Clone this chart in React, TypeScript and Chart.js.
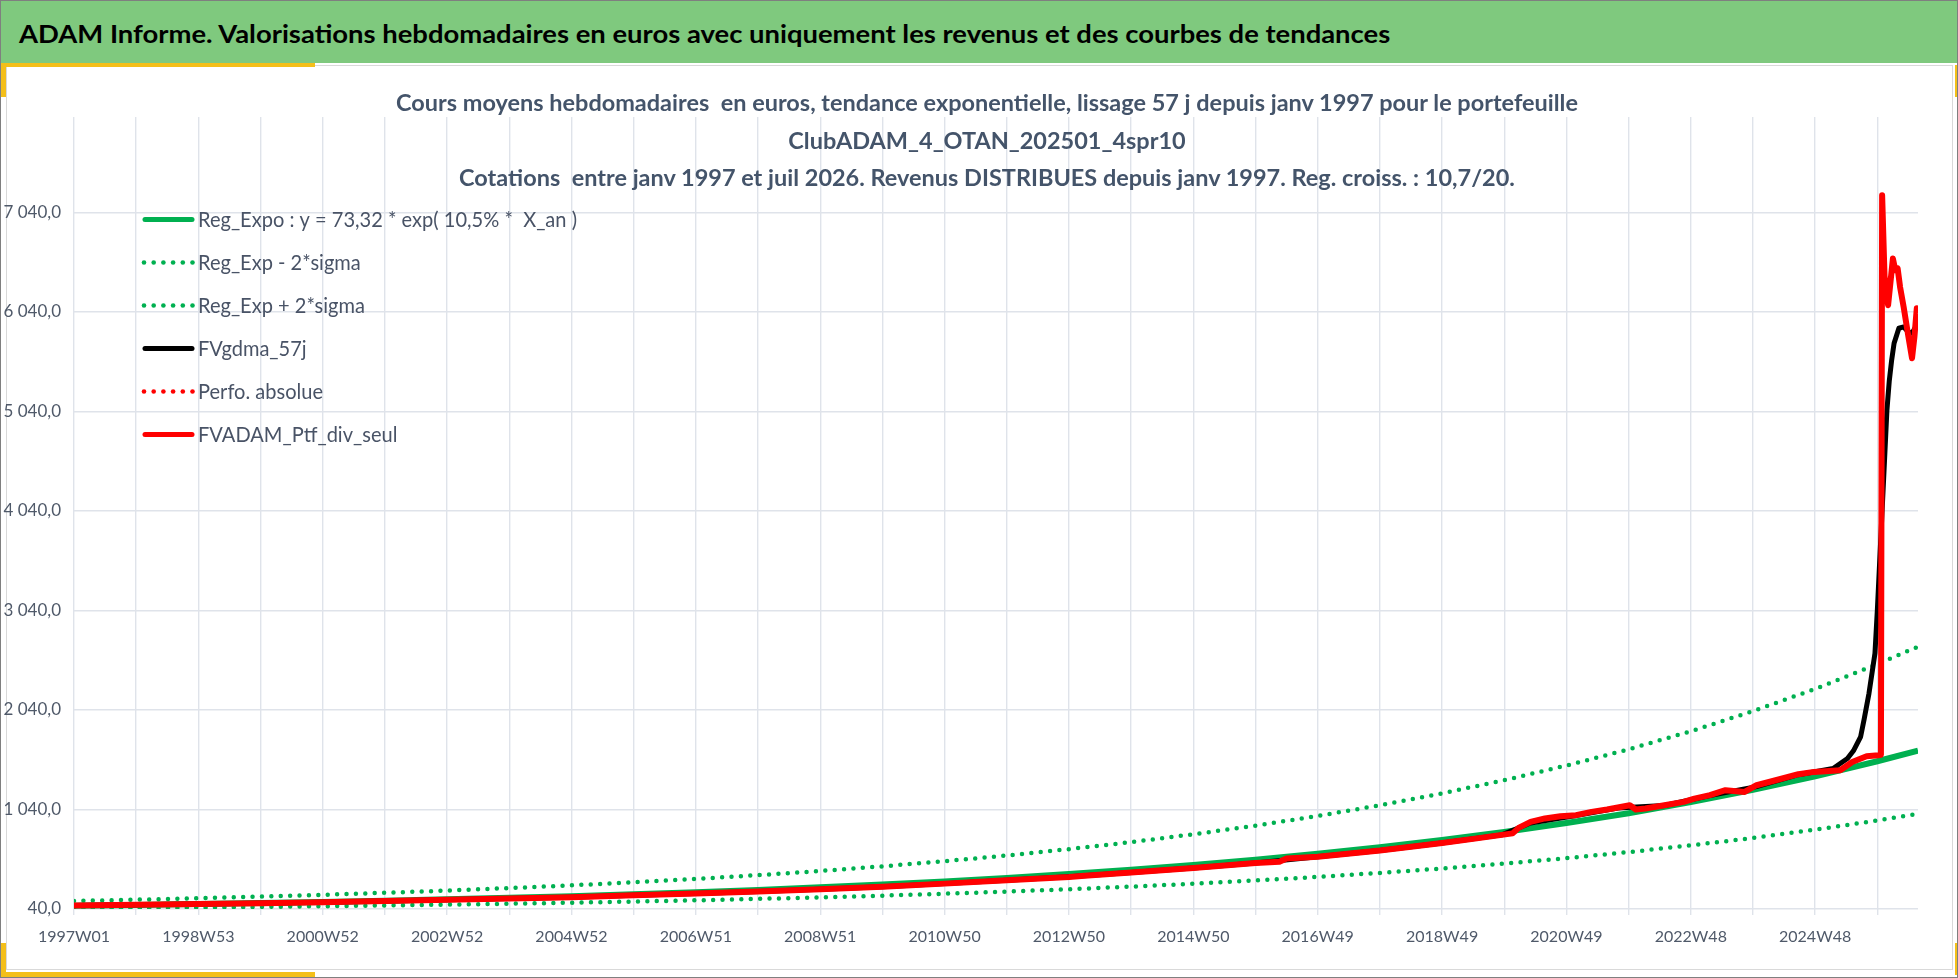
import React, { useEffect, useLayoutEffect, useRef } from "react";
import { Chart, registerables } from "chart.js";

Chart.register(...registerables);

// week index: 0 = 1997W01
const trendWeeks = [
  0, 52, 104, 156, 208, 260, 312, 364, 416, 468, 520, 572, 624, 676, 728, 780,
  832, 884, 936, 988, 1040, 1092, 1144, 1196, 1248, 1300, 1352, 1404, 1456, 1508, 1542,
];
const regExpo = [
  73.3, 81.4, 90.4, 100.4, 111.4, 123.7, 137.4, 152.5, 169.3, 188.0, 208.8, 231.8,
  257.4, 285.8, 317.3, 352.3, 391.2, 434.3, 482.2, 535.4, 594.5, 660.1, 732.9,
  813.7, 903.5, 1003.1, 1113.8, 1236.7, 1373.1, 1524.6, 1632.0,
];
const regMinus2Sigma = [
  44.7, 49.7, 55.1, 61.2, 68.0, 75.5, 83.8, 93.0, 103.3, 114.7, 127.4, 141.4, 157.0,
  174.3, 193.6, 214.9, 238.6, 264.9, 294.1, 326.6, 362.6, 402.7, 447.1, 496.4, 551.1,
  611.9, 679.4, 754.4, 837.6, 930.0, 995.5,
];
const regPlus2Sigma = [
  120.2, 133.5, 148.3, 164.7, 182.7, 202.9, 225.3, 250.1, 277.7, 308.3, 342.4, 380.2,
  422.1, 468.7, 520.4, 577.8, 641.6, 712.3, 790.8, 878.1, 975.0, 1082.6, 1202.0,
  1334.5, 1481.7, 1645.1, 1826.6, 2028.2, 2251.9, 2500.3, 2676.5,
];

const ptfWeeks = [
  0, 52, 104, 156, 208, 260, 312, 364, 416, 468, 520, 572, 624, 676, 728, 780, 832,
  845, 884, 936, 988, 1008, 1014, 1040, 1092, 1144, 1170, 1194, 1203, 1208, 1218,
  1230, 1243, 1256, 1269, 1282, 1291, 1301, 1306, 1314, 1330, 1346, 1355, 1368,
  1381, 1397, 1407, 1423, 1442, 1455, 1468, 1477, 1487, 1499, 1509, 1511, 1512,
  1514, 1517, 1521, 1523, 1525, 1527, 1530, 1534, 1537, 1539, 1541, 1542,
];
const ptfValues = [
  75, 82, 90, 99, 109, 120, 132, 145, 159, 177, 196, 216, 239, 263, 295, 328, 362,
  375, 408, 453, 503, 515, 548, 565, 627, 704, 745, 785, 800, 855, 915, 950, 973,
  983, 1016, 1040, 1060, 1083, 1040, 1050, 1083, 1117, 1150, 1184, 1234, 1217,
  1284, 1334, 1395, 1418, 1428, 1435, 1518, 1576, 1586, 1590, 7214, 6400, 6108,
  6577, 6460, 6477, 6292, 6091, 5790, 5576, 5790, 6078, 6028,
];

const gdmaWeeks = [
  0, 52, 104, 156, 208, 260, 312, 364, 416, 468, 520, 572, 624, 676, 728, 780, 832,
  884, 936, 988, 1040, 1092, 1144, 1194, 1218, 1256, 1291, 1330, 1368, 1407, 1442,
  1471, 1483, 1488, 1494, 1497, 1501, 1506, 1508, 1510, 1512, 1514, 1516, 1518,
  1520, 1522, 1526, 1530, 1534, 1537, 1540, 1542,
];
const gdmaValues = [
  75, 82, 90, 99, 109, 120, 132, 145, 159, 177, 196, 216, 239, 263, 295, 328, 364,
  408, 453, 503, 565, 627, 704, 785, 905, 980, 1055, 1080, 1180, 1270, 1390, 1452,
  1552, 1630, 1770, 1950, 2206, 2608, 3043, 3545, 4048, 4550, 5053, 5350, 5560,
  5726, 5877, 5890, 5840, 5827, 5890, 5940,
];

const xTickLabels = [
  "1997W01", "1998W53", "2000W52", "2002W52", "2004W52", "2006W51", "2008W51",
  "2010W50", "2012W50", "2014W50", "2016W49", "2018W49", "2020W49", "2022W48", "2024W48",
];
const yTickValues = [40, 1040, 2040, 3040, 4040, 5040, 6040, 7040];

const headerText =
  "ADAM Informe. Valorisations hebdomadaires en euros avec uniquement les revenus et des courbes de tendances";
const titleLines = [
  "Cours moyens hebdomadaires  en euros, tendance exponentielle, lissage 57 j depuis janv 1997 pour le portefeuille",
  "ClubADAM_4_OTAN_202501_4spr10",
  "Cotations  entre janv 1997 et juil 2026. Revenus DISTRIBUES depuis janv 1997. Reg. croiss. : 10,7/20.",
];

const GRID = "#DFE3EA";
const TICK_COLOR = "#4F5969";
const FONT = "Lato, 'Open Sans', sans-serif";

function frNumber(v: number) {
  return Math.round(v).toString().replace(/\B(?=(\d{3})+(?!\d))/g, " ") + ",0";
}

const toXY = (weeks: number[], values: number[]) =>
  weeks.map((w, i) => ({ x: w, y: values[i] }));

// legend drawn inside the plot, top-left (canvas coordinates)
const sideLegend = {
  id: "sideLegend",
  afterDraw(chart: any) {
    const ctx: CanvasRenderingContext2D = chart.ctx;
    const order: number[] = chart.options.plugins.sideLegend.order;
    ctx.save();
    ctx.font = `400 21px ${FONT}`;
    const first = chart.data.datasets[order[0]].label;
    const sx = 379 / ctx.measureText(first).width;
    order.forEach((di, row) => {
      const ds = chart.data.datasets[di];
      const y = 153.5 + row * 43;
      ctx.fillStyle = ds.borderColor;
      ctx.strokeStyle = ds.borderColor;
      if (ds.borderDash && ds.borderDash.length) {
        for (let i = 0; i < 6; i++) {
          ctx.beginPath();
          ctx.arc(144 + i * 9.7, y, 2.3, 0, Math.PI * 2);
          ctx.fill();
        }
      } else {
        ctx.lineWidth = 5;
        ctx.lineCap = "round";
        ctx.beginPath();
        ctx.moveTo(145, y);
        ctx.lineTo(192, y);
        ctx.stroke();
      }
      ctx.save();
      ctx.translate(198, y);
      ctx.scale(sx, 1);
      ctx.fillStyle = "#495366";
      ctx.textBaseline = "middle";
      ctx.textAlign = "left";
      ctx.fillText(ds.label, 0, 1);
      ctx.restore();
    });
    ctx.restore();
  },
};

function AdamChart() {
  const chartRef = useRef<HTMLCanvasElement>(null);

  useEffect(() => {
    const canvas = chartRef.current;
    if (!canvas) {
      return;
    }
    const gridWeeks = Array.from({ length: 30 }, (_, i) => i * 52);

    const chart = new Chart(canvas, {
      type: "line",
      data: {
        datasets: [
          {
            label: "Reg_Expo : y = 73,32 * exp( 10,5% *  X_an )",
            data: toXY(trendWeeks, regExpo),
            borderColor: "#00B050",
            borderWidth: 6,
            order: 3,
          },
          {
            label: "Reg_Exp - 2*sigma",
            data: toXY(trendWeeks, regMinus2Sigma),
            borderColor: "#00B050",
            borderWidth: 4.5,
            borderDash: [0, 9.4],
            borderCapStyle: "round",
            order: 4,
          },
          {
            label: "Reg_Exp + 2*sigma",
            data: toXY(trendWeeks, regPlus2Sigma),
            borderColor: "#00B050",
            borderWidth: 4.5,
            borderDash: [0, 9.4],
            borderCapStyle: "round",
            order: 5,
          },
          {
            label: "FVgdma_57j",
            data: toXY(gdmaWeeks, gdmaValues),
            borderColor: "#000000",
            borderWidth: 5,
            borderJoinStyle: "round",
            order: 2,
          },
          {
            label: "Perfo. absolue",
            data: toXY(ptfWeeks, ptfValues),
            borderColor: "#FF0000",
            borderWidth: 4,
            borderDash: [0, 9],
            borderCapStyle: "round",
            order: 1,
          },
          {
            label: "FVADAM_Ptf_div_seul",
            data: toXY(ptfWeeks, ptfValues),
            borderColor: "#FF0000",
            borderWidth: 6,
            borderJoinStyle: "round",
            order: 0,
          },
        ],
      },
      options: {
        animation: false,
        responsive: false,
        maintainAspectRatio: false,
        layout: { padding: { top: 51, right: 40, left: 0, bottom: 0 } },
        elements: { point: { radius: 0 }, line: { tension: 0 } },
        plugins: {
          legend: { display: false },
          title: { display: false },
          tooltip: { enabled: false },
          // @ts-ignore
          sideLegend: { order: [0, 1, 2, 3, 4, 5] },
        },
        scales: {
          x: {
            type: "linear",
            min: 0,
            max: 1542,
            afterBuildTicks: (axis: any) => {
              axis.ticks = gridWeeks.map((v) => ({ value: v }));
            },
            afterFit: (scale: any) => {
              scale.height = 61;
            },
            ticks: {
              autoSkip: false,
              maxRotation: 0,
              padding: 12,
              color: TICK_COLOR,
              font: { family: FONT, size: 16 },
              callback: (v: any) => (v % 104 === 0 ? xTickLabels[v / 104] : ""),
            },
            grid: { color: GRID, lineWidth: 1.4, drawTicks: true, tickLength: 6 },
            border: { display: false },
          },
          y: {
            min: 40,
            max: 8000,
            afterBuildTicks: (axis: any) => {
              axis.ticks = yTickValues.map((v) => ({ value: v }));
            },
            afterFit: (scale: any) => {
              scale.width = 74;
            },
            ticks: {
              padding: 13,
              color: TICK_COLOR,
              font: { family: FONT, size: 17 },
              callback: (v: any) => frNumber(v),
            },
            grid: { color: GRID, lineWidth: 1.4, drawTicks: false },
            border: { display: false },
          },
        },
      },
      plugins: [sideLegend],
    });
    return () => {
      chart.destroy();
    };
  }, []);

  return (
    <canvas
      ref={chartRef}
      width={1958}
      height={904}
      style={{ position: "absolute", left: 0, top: 66, width: 1958, height: 904 }}
    />
  );
}

export default function App() {
  const headerRef = useRef<HTMLSpanElement>(null);
  const titleRefs = useRef<(HTMLSpanElement | null)[]>([]);

  useLayoutEffect(() => {
    const fit = () => {
      const h = headerRef.current;
      if (h) {
        h.style.transform = `scaleX(${1371 / h.offsetWidth})`;
      }
      const first = titleRefs.current[0];
      if (first) {
        const s = 1182 / first.offsetWidth;
        titleRefs.current.forEach((el) => {
          if (el) el.style.transform = `translateX(-50%) scaleX(${s})`;
        });
      }
    };
    fit();
    document.fonts?.ready.then(fit);
  }, []);

  const yellow = "#F4BF1A";
  return (
    <div
      style={{
        position: "fixed",
        left: 0,
        top: 0,
        width: 1958,
        height: 978,
        background: "#FFFFFF",
        overflow: "hidden",
        fontFamily: FONT,
      }}
    >
      <div style={{ position: "absolute", left: 1, top: 1, right: 1, height: 62, background: "#7FC97E" }} />
      <span
        ref={headerRef}
        style={{
          position: "absolute",
          left: 19,
          top: 17,
          whiteSpace: "pre",
          fontWeight: 700,
          fontSize: 25,
          lineHeight: "32px",
          color: "#000000",
          transformOrigin: "left center",
        }}
      >
        {headerText}
      </span>
      <div
        style={{
          position: "absolute",
          left: 6,
          top: 65,
          width: 1947,
          height: 905,
          border: "1px solid #D9D9D9",
          boxSizing: "border-box",
        }}
      />
      <div style={{ position: "absolute", left: 0, top: 63, width: 315, height: 4, background: yellow }} />
      <div style={{ position: "absolute", left: 0, top: 63, width: 6, height: 34, background: yellow }} />
      <div style={{ position: "absolute", left: 0, top: 972, width: 315, height: 6, background: yellow }} />
      <div style={{ position: "absolute", left: 0, top: 943, width: 6, height: 35, background: yellow }} />
      <div style={{ position: "absolute", left: 1955, top: 65, width: 3, height: 32, background: yellow }} />
      <div style={{ position: "absolute", left: 1955, top: 943, width: 3, height: 32, background: yellow }} />
      <AdamChart />
      {titleLines.map((t, i) => (
        <span
          key={i}
          ref={(el) => {
            titleRefs.current[i] = el;
          }}
          style={{
            position: "absolute",
            left: 987,
            top: [102, 139.5, 177][i] - 15,
            whiteSpace: "pre",
            fontWeight: 700,
            fontSize: 23,
            lineHeight: "30px",
            color: "#44546A",
            transformOrigin: "center center",
          }}
        >
          {t}
        </span>
      ))}
      <div
        style={{
          position: "absolute",
          left: 0,
          top: 0,
          width: 1958,
          height: 978,
          border: "1px solid #7F7F7F",
          boxSizing: "border-box",
          pointerEvents: "none",
        }}
      />
    </div>
  );
}
